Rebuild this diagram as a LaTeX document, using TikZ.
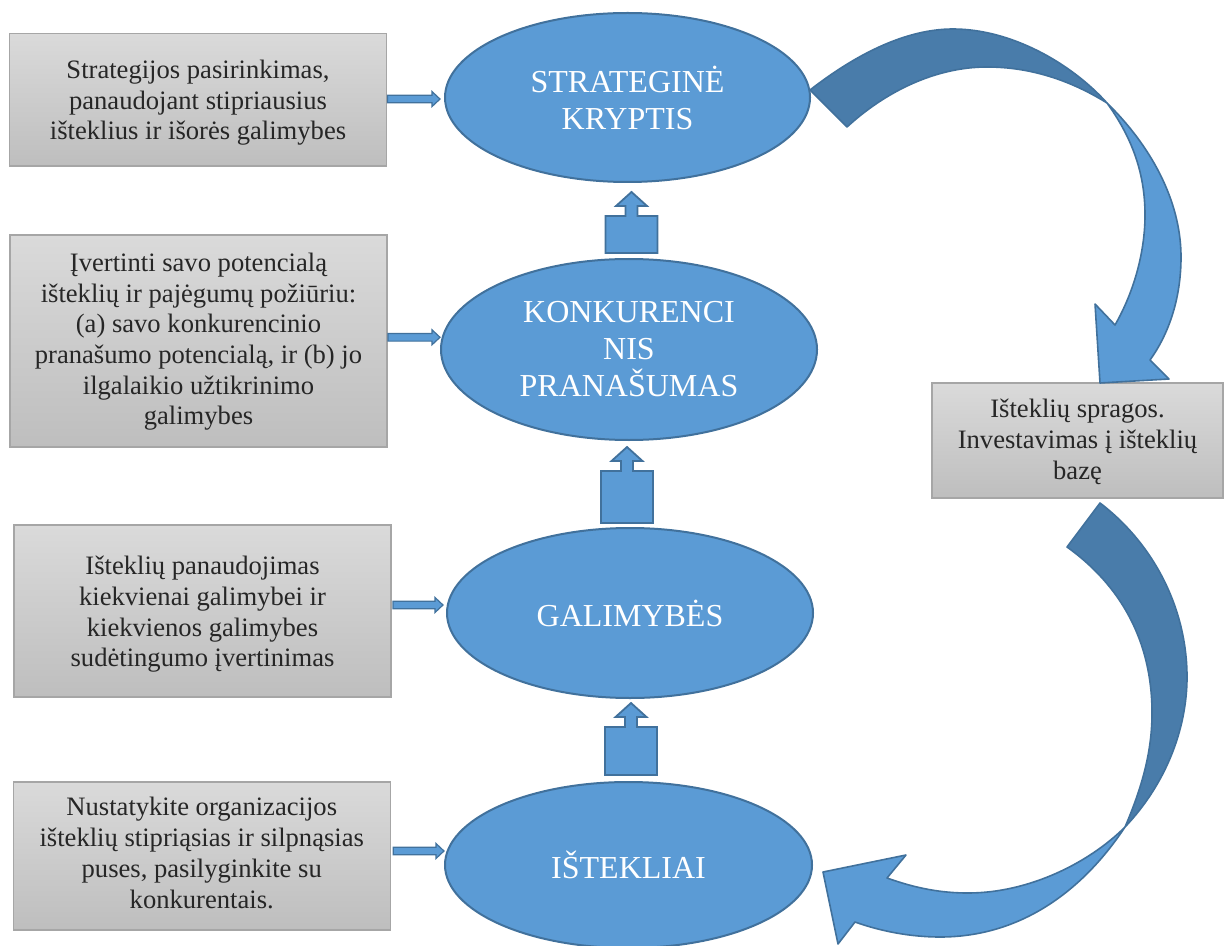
\documentclass[tikz,border=0pt]{standalone}
\usepackage{fontspec}
\setmainfont{Liberation Serif}
\usetikzlibrary{calc,shapes.geometric}

\definecolor{ovalfill}{HTML}{5B9BD5}
\definecolor{ovaledge}{HTML}{41719C}
\definecolor{bandshade}{HTML}{497CAA}
\definecolor{boxtop}{HTML}{DADADA}
\definecolor{boxbottom}{HTML}{BEBEBE}
\definecolor{boxedge}{HTML}{A6A6A6}
\definecolor{inktext}{HTML}{262626}

% small block arrow pointing right: from point #1 to the x of point #2
\newcommand\sidearrow[2]{%
  \draw[sidearrow] let \p1=(#1), \p2=(#2) in
    (\x1,\y1+1.9pt) -- (\x2-4pt,\y1+1.9pt) -- (\x2-4pt,\y1+3.75pt) -- (\x2,\y1)
    -- (\x2-4pt,\y1-3.75pt) -- (\x2-4pt,\y1-1.9pt) -- (\x1,\y1-1.9pt) -- cycle;}

% up-arrow callout: base centre #1, tip height from #2
\newcommand\upblock[2]{%
  \draw[blockup] let \p1=(#1), \p2=(#2) in
    (\x1-13pt,\y1) -- (\x1+13pt,\y1) -- (\x1+13pt,\y2-12pt) -- (\x1+3pt,\y2-12pt)
    -- (\x1+3pt,\y2-7pt) -- (\x1+7.75pt,\y2-7pt) -- (\x1,\y2) -- (\x1-7.75pt,\y2-7pt)
    -- (\x1-3pt,\y2-7pt) -- (\x1-3pt,\y2-12pt) -- (\x1-13pt,\y2-12pt) -- cycle;}

\begin{document}
\begin{tikzpicture}[x=0.5pt,y=-0.5pt,
  oval/.style={ellipse, draw=ovaledge, line width=1pt, fill=ovalfill,
    inner sep=0pt, outer sep=0pt, text=white, align=center,
    font=\fontsize{16pt}{18.5pt}\selectfont},
  graybox/.style={rectangle, draw=boxedge, line width=0.6pt,
    top color=boxtop, bottom color=boxbottom,
    inner sep=0pt, outer sep=0pt, minimum width=188.5pt},
  boxtext/.style={align=center, text=inktext, inner sep=0pt,
    font=\fontsize{13.3pt}{15.35pt}\selectfont},
  sidearrow/.style={draw=ovaledge, fill=ovalfill, line width=0.6pt},
  blockup/.style={draw=ovaledge, fill=ovalfill, line width=0.9pt},
  bandfront/.style={draw=ovaledge, fill=ovalfill, line width=0.8pt, line join=round},
  bandback/.style={draw=ovaledge, fill=bandshade, line width=0.8pt, line join=round},
]
\useasboundingbox (0,0) rectangle (1224,946);

% central chain of ovals
\node[oval, minimum width=182.5pt, minimum height=84.5pt] (e1) at (627.5,97.5) {STRATEGINĖ\\KRYPTIS};
\node[oval, minimum width=188pt, minimum height=90.5pt] (e2) at (629,349.5) {KONKURENCI\\NIS\\PRANAŠUMAS};
\node[oval, minimum width=183pt, minimum height=85pt] (e3) at (630,613) {GALIMYBĖS};
\node[oval, minimum width=183.5pt, minimum height=83pt] (e4) at (628.5,865) {IŠTEKLIAI};

% grey description boxes
\node[graybox, minimum height=66.25pt] (b1) at (198,99.75) {};
\node[graybox, minimum height=106pt] (b2) at (198.5,341) {};
\node[graybox, minimum height=86pt] (b3) at (202.5,611) {};
\node[graybox, minimum height=74pt] (b4) at (201.75,856) {};
\node[graybox, minimum width=145.5pt, minimum height=57.5pt] (b5) at (1077.5,440.5) {};

\node[boxtext] (t1) at ($(b1.center)+(0,3)$)
  {Strategijos pasirinkimas,\\panaudojant stipriausius\\išteklius ir išorės galimybes};
\node[boxtext] (t2) at ($(b2.center)+(0,0.75)$)
  {Įvertinti savo potencialą\\išteklių ir pajėgumų požiūriu:\\(a) savo konkurencinio\\pranašumo potencialą, ir (b) jo\\ilgalaikio užtikrinimo\\galimybes};
\node[boxtext] (t3) at ($(b3.center)+(0,3.5)$)
  {Išteklių panaudojimas\\kiekvienai galimybei ir\\kiekvienos galimybes\\sudėtingumo įvertinimas};
\node[boxtext] (t4) at ($(b4.center)+(0,-3)$)
  {Nustatykite organizacijos\\išteklių stipriąsias ir silpnąsias\\puses, pasilyginkite su\\konkurentais.};
\node[boxtext] (t5) at ($(b5.center)+(0,1.5)$)
  {Išteklių spragos.\\Investavimas į išteklių\\bazę};

% arrows from boxes into ovals
\sidearrow{$(b1.east)+(1,-0.7)$}{$(e1.west)+(-5,0)$}
\sidearrow{$(b2.east)+(1,-3.7)$}{$(e2.west)+(-1,0)$}
\sidearrow{$(b3.east)+(2,-6)$}{$(e3.west)+(-4,0)$}
\sidearrow{$(b4.east)+(3,-5)$}{$(e4.west)+(-1,0)$}

% upward block arrows between ovals
\upblock{$(e2.north)+(2.5,-6)$}{$(e1.south)+(0,10)$}
\upblock{$(e3.north)+(-3,-5)$}{$(e2.south)+(0,7)$}
\upblock{$(e4.north)+(2.5,-7)$}{$(e3.south)+(0,5)$}

% curved arrow: strategic direction -> resource gaps
\draw[bandback] (810,90) .. controls (855,55) and (905,29) .. (953,29)
  .. controls (1010,29) and (1070,62) .. (1107,103)
  .. controls (1070,80) and (1030,67) .. (987,67)
  .. controls (935,67) and (885,92) .. (847,127) -- cycle;
\draw[bandfront] (1107,103) .. controls (1150,145) and (1181,200) .. (1181,257)
  .. controls (1181,300) and (1168,335) .. (1150,360)
  -- (1169,379) -- (1100,383) -- (1095,304) -- (1115,325)
  .. controls (1135,290) and (1145,250) .. (1145,215)
  .. controls (1145,170) and (1130,135) .. (1107,103) -- cycle;

% curved arrow: resource gaps -> resources
\draw[bandback] (1100,503) .. controls (1155,545) and (1187,610) .. (1187,677)
  .. controls (1187,730) and (1165,785) .. (1125,827)
  .. controls (1143,785) and (1152,750) .. (1152,713)
  .. controls (1152,640) and (1120,585) .. (1067,547) -- cycle;
\draw[bandfront] (1125,827) .. controls (1090,880) and (1030,937) .. (940,937)
  .. controls (910,937) and (880,931) .. (855,922)
  -- (838,944) -- (823,872) -- (906,855) -- (887,878)
  .. controls (915,888) and (940,893) .. (968,893)
  .. controls (1030,893) and (1090,862) .. (1125,827) -- cycle;

\end{tikzpicture}
\end{document}
